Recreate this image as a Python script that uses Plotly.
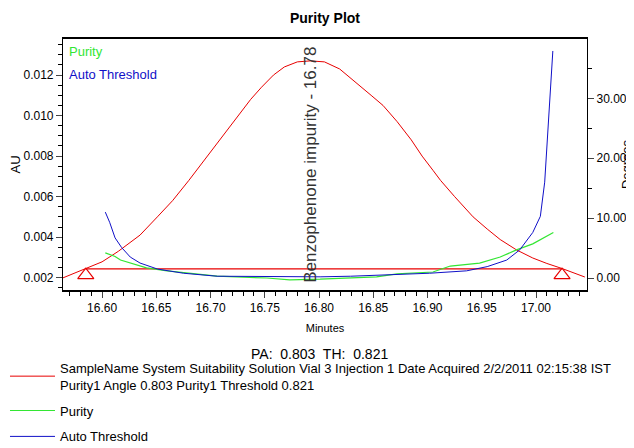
import plotly.graph_objects as go

# peak trace (AU, left axis)
red_x = [16.564, 16.585, 16.600, 16.615, 16.635, 16.651, 16.665, 16.680, 16.690, 16.701,
         16.715, 16.727, 16.737, 16.747, 16.758, 16.768, 16.780, 16.792, 16.805, 16.819,
         16.835, 16.848, 16.859, 16.872, 16.885, 16.895, 16.905, 16.912, 16.925, 16.942,
         16.955, 16.967, 16.982, 16.997, 17.010, 17.024, 17.045]
red_y = [0.00199, 0.00245, 0.00278, 0.00330, 0.00410, 0.00500, 0.00580, 0.00680, 0.00750, 0.00830,
         0.00930, 0.01010, 0.01080, 0.01140, 0.01200, 0.01240, 0.01265, 0.01270, 0.01265, 0.01230,
         0.01160, 0.01100, 0.01050, 0.00970, 0.00880, 0.00800, 0.00730, 0.00680, 0.00600, 0.00500,
         0.00440, 0.00388, 0.00337, 0.00297, 0.00270, 0.00245, 0.00203]

# integration baseline and its end markers
base_x = [16.585, 17.024]
base_y = [0.00243, 0.00243]
mark_y = [0.00212, 0.00212]

# purity angle (degrees, right axis)
purity_x = [16.603, 16.612, 16.617, 16.641, 16.660, 16.706, 16.752, 16.773, 16.801, 16.853,
            16.872, 16.905, 16.921, 16.948, 16.967, 16.982, 16.997, 17.016]
purity_y = [4.2, 3.6, 3.0, 1.7, 1.2, 0.3, 0.0, -0.3, -0.2, 0.2,
            0.7, 1.0, 2.0, 2.5, 3.5, 4.7, 5.7, 7.6]

# auto threshold (degrees, right axis)
thr_x = [16.603, 16.607, 16.612, 16.618, 16.626, 16.635, 16.651, 16.675, 16.706, 16.752,
         16.801, 16.829, 16.902, 16.936, 16.955, 16.973, 16.985, 16.997, 17.004, 17.008,
         17.010, 17.0115, 17.0135, 17.0155]
thr_y = [11.0, 9.3, 6.7, 5.1, 3.5, 2.5, 1.5, 0.8, 0.3, 0.2,
         0.2, 0.3, 0.8, 1.2, 1.9, 3.0, 4.7, 7.6, 10.3, 16.0,
         21.6, 27.0, 33.0, 37.9]

FONT = "Liberation Sans Narrow, Arial Narrow, Liberation Sans, Arial"
RED = '#e80000'
GREEN = '#33e633'
BLUE = '#1010c8'

fig = go.Figure()

fig.add_trace(
    go.Scatter(
        x = red_x,
        y = red_y,
        mode = 'lines',
        name = 'SampleName System Suitability Solution Vial 3 Injection 1 Date Acquired 2/2/2011 02:15:38 IST<br>Purity1 Angle 0.803 Purity1 Threshold 0.821',
        legendgroup = 'peak',
        line = dict(color = RED, width = 1),
    )
)
fig.add_trace(
    go.Scatter(
        x = purity_x,
        y = purity_y,
        mode = 'lines',
        name = 'Purity',
        legendgroup = 'purity',
        yaxis = 'y2',
        line = dict(color = GREEN, width = 1.2),
    )
)
fig.add_trace(
    go.Scatter(
        x = thr_x,
        y = thr_y,
        mode = 'lines',
        name = 'Auto Threshold',
        legendgroup = 'threshold',
        yaxis = 'y2',
        line = dict(color = BLUE, width = 1),
    )
)
fig.add_trace(
    go.Scatter(
        x = base_x,
        y = base_y,
        mode = 'lines',
        showlegend = False,
        line = dict(color = RED, width = 1.2),
    )
)
fig.add_trace(
    go.Scatter(
        x = base_x,
        y = mark_y,
        mode = 'markers',
        showlegend = False,
        marker = dict(symbol = 'triangle-up-open', size = 14, color = RED, line = dict(width = 1.2, color = RED)),
    )
)

# the page puts the figure 8px in from the top-left corner
fig.update_layout(
    width = 626,
    height = 440,
    plot_bgcolor = 'white',
    paper_bgcolor = 'white',
    font = dict(family = FONT, size = 12, color = 'black'),
    margin = dict(l = 55, r = 47, t = 31, b = 158, autoexpand = False),
    title = dict(
        text = '<b>Purity Plot</b>',
        font = dict(size = 14, family = FONT),
        x = 0.5,
        xref = 'paper',
        xanchor = 'center',
        y = 0.977,
        yref = 'container',
        yanchor = 'middle',
    ),
    xaxis = dict(
        automargin = False,
        range = [16.564, 17.047],
        tick0 = 16.60,
        dtick = 0.05,
        tickformat = '.2f',
        ticks = 'outside',
        ticklen = 6,
        minor = dict(dtick = 0.01, ticks = 'outside', ticklen = 4, tickcolor = 'black'),
        showline = True,
        linecolor = 'black',
        linewidth = 1.5,
        mirror = True,
        showgrid = False,
        zeroline = False,
        tickfont = dict(size = 12),
        title = dict(text = 'Minutes', font = dict(size = 11), standoff = 10),
    ),
    yaxis = dict(
        automargin = False,
        range = [0.00139, 0.01378],
        tick0 = 0.002,
        dtick = 0.002,
        tickformat = '.3f',
        ticks = 'outside',
        ticklen = 6,
        minor = dict(dtick = 0.0005, ticks = 'outside', ticklen = 4, tickcolor = 'black'),
        showline = True,
        linecolor = 'black',
        linewidth = 1.2,
        showgrid = False,
        zeroline = False,
        tickfont = dict(size = 12),
        title = dict(text = 'AU', font = dict(size = 13), standoff = 6),
    ),
    yaxis2 = dict(
        automargin = False,
        overlaying = 'y',
        side = 'right',
        range = [-2, 39.9],
        tick0 = 0,
        dtick = 10,
        tickformat = '.2f',
        ticks = 'outside',
        ticklen = 6,
        minor = dict(dtick = 5, ticks = 'outside', ticklen = 4, tickcolor = 'black'),
        showline = True,
        linecolor = 'black',
        linewidth = 1.2,
        showgrid = False,
        zeroline = False,
        tickfont = dict(size = 12),
        title = dict(text = 'Degrees', font = dict(size = 13), standoff = 4),
    ),
    legend = dict(
        x = -0.1107,
        xanchor = 'left',
        y = -0.25,
        yanchor = 'top',
        font = dict(size = 13, family = FONT),
        bgcolor = 'rgba(0,0,0,0)',
        tracegroupgap = 6,
        itemwidth = 45,
    ),
    annotations = [
        dict(
            text = 'Benzophenone impurity - 16.78',
            x = 16.792, xref = 'x',
            y = 0.5, yref = 'paper',
            textangle = -90,
            showarrow = False,
            font = dict(size = 17, color = '#333333', family = FONT),
        ),
        dict(
            text = 'Purity',
            x = 0.008, xref = 'paper', xanchor = 'left',
            y = 0.95, yref = 'paper', yanchor = 'middle',
            showarrow = False,
            font = dict(size = 13, color = GREEN, family = FONT),
        ),
        dict(
            text = 'Auto Threshold',
            x = 0.008, xref = 'paper', xanchor = 'left',
            y = 0.86, yref = 'paper', yanchor = 'middle',
            showarrow = False,
            font = dict(size = 13, color = BLUE, family = FONT),
        ),
        dict(
            text = 'PA:  0.803  TH:  0.821',
            x = 0.49, xref = 'paper', xanchor = 'center',
            y = -0.255, yref = 'paper', yanchor = 'middle',
            showarrow = False,
            font = dict(size = 14, family = FONT),
        ),
    ],
)

fig.write_html("out.html")
